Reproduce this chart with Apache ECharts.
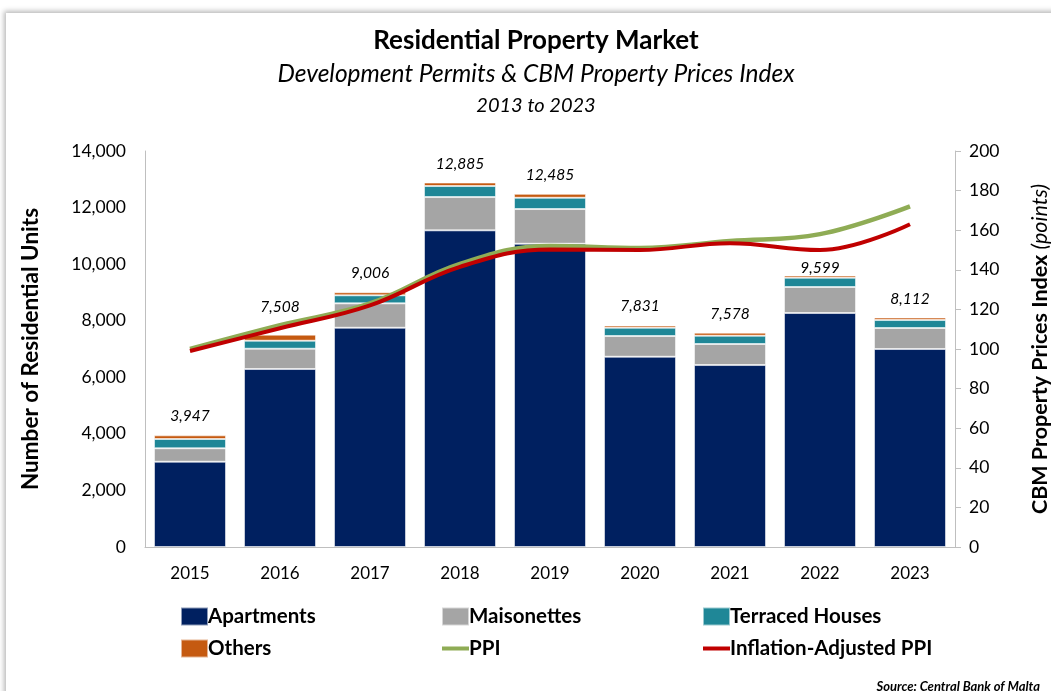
<!DOCTYPE html>
<html>
<head>
<meta charset="utf-8">
<script src="https://cdn.jsdelivr.net/npm/echarts@6/dist/echarts.min.js"></script>
<style>
  html, body { margin:0; padding:0; background:#fff; width:1051px; height:691px; overflow:hidden; }
  #frame { position:absolute; left:6px; top:13px; width:1100px; height:720px; background:#fff;
           box-shadow: -2px -2px 5px rgba(0,0,0,0.28); }
  #chart { position:absolute; left:0; top:0; width:1051px; height:691px; }
</style>
</head>
<body>
<div id="frame"></div>
<div id="chart"></div>
<script>
const years = ['2015','2016','2017','2018','2019','2020','2021','2022','2023'];
const apartments = [3015, 6292, 7752, 11194, 10721, 6727, 6433, 8272, 6999];
const maisonettes = [474, 718, 862, 1178, 1227, 731, 743, 919, 742];
const terracedHouses = [329, 283, 283, 389, 399, 294, 293, 329, 283];
const others = [129, 215, 109, 124, 138, 79, 109, 79, 88];
const totals = [3947, 7508, 9006, 12885, 12485, 7831, 7578, 9599, 8112];
const ppi = [100, 112, 123, 143, 152, 151, 154.5, 158, 172];
const inflationAdjustedPpi = [99, 110.5, 122, 141.5, 150.3, 150, 153.4, 150, 163];

const FONT = 'Lato, "Open Sans", sans-serif';
const chart = echarts.init(document.getElementById('chart'), null, {renderer:'canvas'});

// thin line legend icon: tiny corner marks keep the 27x18 box, the bar in the middle is the line
const LINE_ICON = 'path://M0,0 L0.01,0 L0,0.01 Z M27,18 L26.99,18 L27,17.99 Z M0,7 L27,7 L27,11 L0,11 Z';
// total-label distances above the bars (style only)
const LABEL_DIST_DEFAULT = 11;
const labelDistOverride = { 1: 20, 7: -1 };

const barBase = (name, data, color) => ({
  name, type:'bar', stack:'units', data, barCategoryGap:'20%',
  itemStyle:{ color, borderColor:'rgba(255,255,255,0.55)', borderWidth:1 },
  emphasis:{ disabled:true }
});

const legendCommon = {
  orient:'vertical', itemWidth:27, itemHeight:18, itemGap:11,
  textStyle:{ fontFamily:FONT, fontSize:20.5, fontWeight:'bold', color:'#000', padding:[0,0,0,-5] },
  selectedMode:false
};

const othersData = others.map((v, i) => ({
  value: v,
  label: { distance: (i in labelDistOverride) ? labelDistOverride[i] : LABEL_DIST_DEFAULT }
}));

chart.setOption({
  animation:false,
  title:[
    { text:'Residential Property Market', left:531, textAlign:'center', top:23,
      textStyle:{ fontFamily:FONT, fontSize:26, fontWeight:'bold', color:'#000' } },
    { text:'Development Permits & CBM Property Prices Index', left:531, textAlign:'center', top:57,
      textStyle:{ fontFamily:FONT, fontSize:24.5, fontStyle:'italic', fontWeight:'normal', color:'#000' } },
    { text:'2013 to 2023', left:531, textAlign:'center', top:91,
      textStyle:{ fontFamily:FONT, fontSize:20, fontStyle:'italic', fontWeight:'normal', color:'#000' } },
    { text:'Source: Central Bank of Malta', right:6, top:675,
      textStyle:{ fontFamily:FONT, fontSize:13, fontStyle:'italic', fontWeight:'bold', color:'#000' } }
  ],
  legend:[
    Object.assign({ left:175, top:601,
      data:[{name:'Apartments', icon:'rect'},{name:'Others', icon:'rect'}] }, legendCommon),
    Object.assign({ left:436, top:601,
      data:[{name:'Maisonettes', icon:'rect'},{name:'PPI', icon:LINE_ICON}] }, legendCommon),
    Object.assign({ left:697, top:601,
      data:[{name:'Terraced Houses', icon:'rect'},{name:'Inflation-Adjusted PPI', icon:LINE_ICON}] }, legendCommon)
  ],
  grid:{ left:145, right:96, top:151, bottom:144, containLabel:false, outerBoundsMode:'none' },
  xAxis:{
    type:'category', data:years,
    axisLine:{ lineStyle:{ color:'#bfbfbf', width:1 } },
    axisTick:{ show:false },
    axisLabel:{ fontFamily:FONT, fontSize:17, color:'#000', margin:18 }
  },
  yAxis:[
    { type:'value', min:0, max:14000, interval:2000, position:'left',
      name:'Number of Residential Units', nameLocation:'middle', nameRotate:90, nameGap:103,
      nameTextStyle:{ fontFamily:FONT, fontSize:22.5, fontWeight:'bold', color:'#000' },
      axisLine:{ show:true, lineStyle:{ color:'#bfbfbf' } },
      axisTick:{ show:false }, splitLine:{ show:false },
      axisLabel:{ fontFamily:FONT, fontSize:17.5, color:'#000', margin:19,
        formatter: v => v.toLocaleString('en-US') } },
    { type:'value', min:0, max:200, interval:20, position:'right',
      name:'{b|CBM Property Prices Index }{i|(points)}', nameLocation:'middle', nameRotate:90, nameGap:74,
      nameTextStyle:{ rich:{
        b:{ fontFamily:FONT, fontSize:21.5, fontWeight:'bold', color:'#000' },
        i:{ fontFamily:FONT, fontSize:21.5, fontWeight:'normal', fontStyle:'italic', color:'#000' } } },
      axisLine:{ show:true, lineStyle:{ color:'#bfbfbf' } },
      axisTick:{ show:true, length:6, inside:false, lineStyle:{ color:'#bfbfbf' } },
      splitLine:{ show:false },
      axisLabel:{ fontFamily:FONT, fontSize:17.5, color:'#000', margin:14 } }
  ],
  series:[
    barBase('Apartments', apartments, '#002060'),
    barBase('Maisonettes', maisonettes, '#a5a5a5'),
    barBase('Terraced Houses', terracedHouses, '#1f8797'),
    Object.assign(barBase('Others', othersData, '#c55a11'), {
      label:{ show:true, position:'top', distance:LABEL_DIST_DEFAULT, fontFamily:FONT, fontSize:15.5, fontStyle:'italic', color:'#000',
        formatter: p => totals[p.dataIndex].toLocaleString('en-US') }
    }),
    { name:'PPI', type:'line', yAxisIndex:1, data:ppi, smooth:0.4, symbol:'none', z:5,
      lineStyle:{ color:'#8fac55', width:4.5 }, itemStyle:{ color:'#8fac55' }, emphasis:{ disabled:true } },
    { name:'Inflation-Adjusted PPI', type:'line', yAxisIndex:1, data:inflationAdjustedPpi, smooth:0.4, symbol:'none', z:6,
      lineStyle:{ color:'#c00000', width:4 }, itemStyle:{ color:'#c00000' }, emphasis:{ disabled:true } }
  ]
});
</script>
</body>
</html>
